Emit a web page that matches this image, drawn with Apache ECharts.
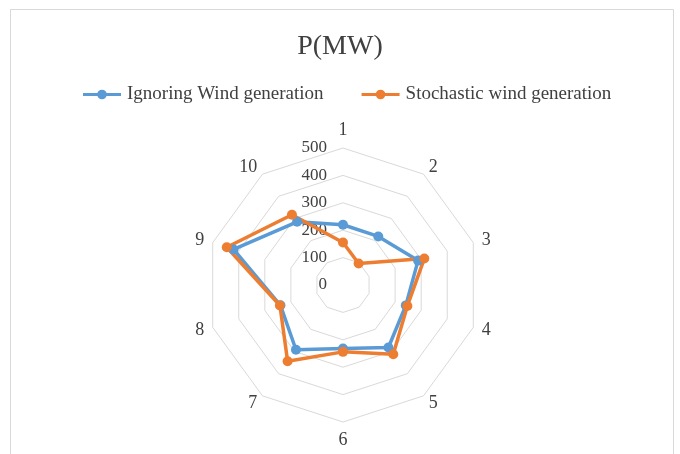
<!DOCTYPE html>
<html>
<head>
<meta charset="utf-8">
<script src="https://cdn.jsdelivr.net/npm/echarts@6/dist/echarts.min.js"></script>
<style>
  html, body { margin: 0; padding: 0; background: #fff; }
  #chart { width: 680px; height: 454px; }
</style>
</head>
<body>
<div id="chart"></div>
<script>
// Bus indices around the radar (clockwise from the top)
const categories = ['1', '2', '3', '4', '5', '6', '7', '8', '9', '10'];
// Active power per bus, MW
const ignoringWind = [220, 219, 288, 241, 282, 232, 292, 240, 420, 285];
const stochasticWind = [155, 97, 312, 247, 312, 244, 344, 242, 446, 317];
const seriesNames = ['Ignoring Wind generation', 'Stochastic wind generation'];
const axisMax = 500;
const axisStep = 100;

// ECharts lays radar indicators out counter-clockwise; keep the first one on
// top and reverse the rest so the buses run clockwise.
const clockwise = arr => [arr[0]].concat(arr.slice(1).reverse());

const serif = 'Liberation Serif, Times New Roman, serif';
const textColor = '#404040';
const center = [343, 285];
const radius = 137;
const blue = '#5B9BD5';
const orange = '#ED7D31';

// Legend glyph: a short line with a solid dot in the middle
const lineDotIcon = 'path://M0,3 L38,3 L38,6.2 L0,6.2 Z M14.2,4.6 A4.8,4.8 0 1,1 23.8,4.6 A4.8,4.8 0 1,1 14.2,4.6 Z';

const chart = echarts.init(document.getElementById('chart'));
chart.setOption({
  animation: false,
  backgroundColor: '#fff',
  graphic: [{
    type: 'rect',
    shape: { x: 10.5, y: 9.5, width: 663, height: 460 },
    style: { fill: 'none', stroke: '#d9d9d9', lineWidth: 1 },
    silent: true
  }],
  title: {
    text: 'P(MW)',
    left: 'center',
    top: 28,
    textStyle: { fontFamily: serif, fontSize: 28, fontWeight: 'normal', color: textColor }
  },
  legend: {
    top: 80,
    left: 78,
    itemGap: 38,
    itemWidth: 38,
    itemHeight: 10,
    textStyle: { fontFamily: serif, fontSize: 19, color: textColor, padding: [0, 0, 0, 1] },
    data: [
      { name: seriesNames[0], icon: lineDotIcon },
      { name: seriesNames[1], icon: lineDotIcon }
    ]
  },
  radar: {
    center: center,
    radius: radius,
    startAngle: 90,
    shape: 'polygon',
    splitNumber: axisMax / axisStep,
    indicator: clockwise(categories).map(name => ({ name: name, min: 0, max: axisMax })),
    axisName: { color: textColor, fontFamily: serif, fontSize: 18 },
    nameGap: 9,
    axisLine: { show: false },
    axisTick: { show: false },
    axisLabel: { show: false },
    splitArea: { show: false },
    splitLine: { lineStyle: { color: '#d9d9d9', width: 1 } }
  },
  // Polar overlay only used to place the value labels along the first spoke
  polar: { center: center, radius: radius },
  angleAxis: { show: false, startAngle: 90, min: 0, max: 360 },
  radiusAxis: {
    min: 0, max: axisMax, interval: axisStep,
    axisLine: { show: false },
    axisTick: { show: false },
    splitLine: { show: false },
    axisLabel: { show: true, margin: 16, color: textColor, fontFamily: serif, fontSize: 17 }
  },
  series: [{
    type: 'radar',
    symbol: 'circle',
    symbolSize: 10,
    data: [
      { name: seriesNames[0], value: clockwise(ignoringWind),
        itemStyle: { color: blue }, lineStyle: { color: blue, width: 3.5 } },
      { name: seriesNames[1], value: clockwise(stochasticWind),
        itemStyle: { color: orange }, lineStyle: { color: orange, width: 3.5 } }
    ]
  }]
});
</script>
</body>
</html>
